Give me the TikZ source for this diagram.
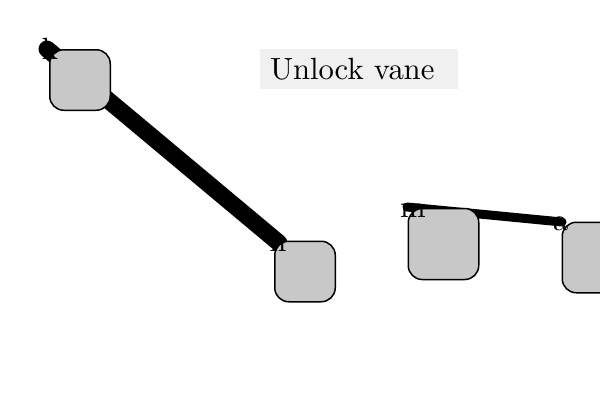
\documentclass[tikz,border=0pt]{standalone}
\font\bigrm=cmr10 at 30.8pt
\begin{document}
\begin{tikzpicture}[x=1bp,y=-1bp,
  card/.style={draw=black, line width=1.5bp, fill=cardgray, rounded corners=14bp, inner sep=0pt},
  lbl/.style={font=\bigrm, inner sep=0pt, text=black},
  link/.style={draw=black, line cap=round}
]
\definecolor{cardgray}{HTML}{C8C8C8}
\definecolor{titlegray}{HTML}{F0F0F0}
\useasboundingbox (0,0) rectangle (600,400);
% endpoints
\coordinate (pk) at (47,49);
\coordinate (ph) at (279,243);
\coordinate (pm) at (407,207);
\coordinate (pa) at (562,222);
% connectors
\draw[link, line width=17bp] (pk) -- (ph);
\draw[link, line width=9bp] (pm) -- (pa);
% boxes
\node[card, minimum width=60.5bp, minimum height=60.5bp] (b1) at (80,80) {};
\node[card, minimum width=60.5bp, minimum height=60.5bp] (b2) at (305,271.5) {};
\node[card, minimum width=70.5bp, minimum height=71bp] (b3) at (443.5,244) {};
\node[card, minimum width=70.5bp, minimum height=70.5bp] (b4) at (597.5,257.5) {};
% labels
\node[lbl] (lk) at (50,48.5) {k};
\node[lbl] (lh) at (278,241) {h};
\node[lbl] (lm) at (413,211) {m};
\node[lbl] (la) at (560.5,224) {a};
% title
\node[fill=titlegray, font=\bigrm, text width=178bp, align=left, inner xsep=10bp, inner ysep=0pt, minimum height=40bp] (title) at (359,69.3) {Unlock vane};
\end{tikzpicture}
\end{document}
